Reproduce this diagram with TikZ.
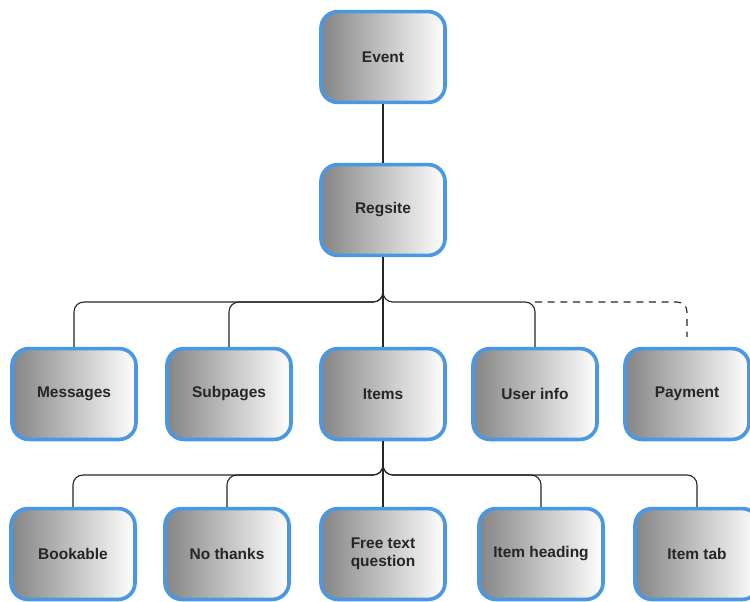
\documentclass[tikz,border=0pt]{standalone}
\usepackage{fontspec}
\setmainfont{Liberation Sans}
\usetikzlibrary{shapes}
\usetikzlibrary{arrows}

\begin{document}
\begin{tikzpicture}[x=0.025cm,y=-0.025cm,
						box/.style={rectangle,rounded corners=12pt,draw=boxblue,line width=2.6pt,left color=black!48,right color=white,
						minimum width=3.1cm,minimum height=2.27cm,align=center,text=black!85,font=\fontsize{11}{12.5}\selectfont\bfseries},
						link/.style={draw=black!85,line width=0.8pt,rounded corners=7pt}
						]
						\definecolor{boxblue}{RGB}{74,152,228}
						\useasboundingbox (0,0) rectangle (750,601);
						\node[box](event) at (383,57) {Event};
						\node[box](regsite) at (383,210) {Regsite};
						\node[box](messages) at (74,394) {Messages};
						\node[box](subpages) at (229,394) {Subpages};
						\node[box](items) at (383,394) {Items};
						\node[box](userinfo) at (535,394) {User info};
						\node[box](payment) at (687,394) {Payment};
						\node[box](bookable) at (73,554) {Bookable};
						\node[box](nothanks) at (227,554) {No thanks};
						\node[box](freetext) at (383,554) {Free text\\question};
						\node[box](itemheading) at (541,554) {Item heading};
						\node[box](itemtab) at (697,554) {Item tab};
						\coordinate (busa) at (0,302);
						\coordinate (busb) at (0,475);
						\draw[link] (event) -- (regsite);
						\foreach \n in {messages,subpages,items,userinfo}
							\draw[link] (regsite.south) |- (busa -| \n.north) -- (\n.north);
						\draw[link,dash pattern=on 5pt off 4pt] (busa -| userinfo.north) -| ([yshift=7pt]payment.north);
						\foreach \n in {bookable,nothanks,freetext,itemheading,itemtab}
							\draw[link] (items.south) |- (busb -| \n.north) -- (\n.north);
						\end{tikzpicture}
\end{document}
